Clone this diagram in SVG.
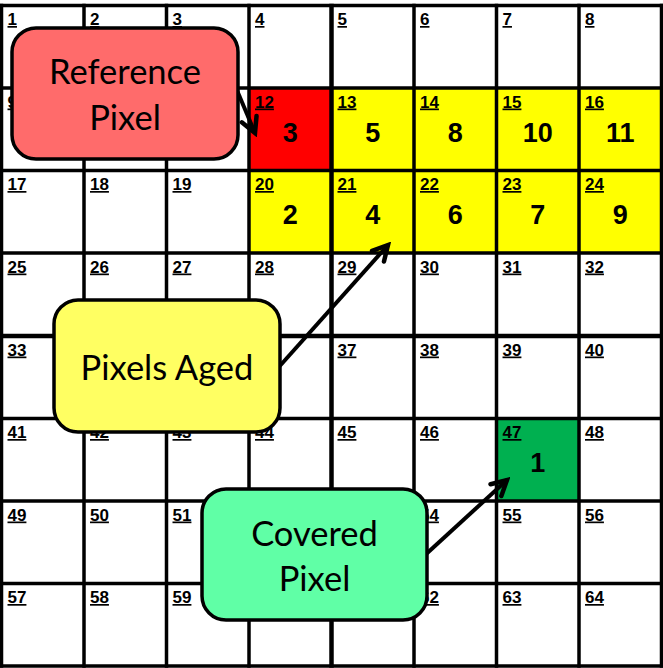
<svg xmlns="http://www.w3.org/2000/svg" width="663" height="668" viewBox="0 0 663 668">
<defs>
<style>
.lbl{font-family:"Liberation Sans",Arial,sans-serif;font-weight:bold;font-size:17px;text-decoration:underline;fill:#000}
.big{font-family:"Liberation Sans",Arial,sans-serif;font-weight:bold;font-size:27px;text-anchor:middle;fill:#000}
.gl{stroke:#000;stroke-width:3.5}
.gm{stroke:#000;stroke-width:4.5}
.box{stroke:#000;stroke-width:3.5}
.bt{font-family:Lato,"Open Sans",sans-serif;font-size:34.5px;text-anchor:middle;fill:#000}
.arr{stroke:#000;stroke-width:4;fill:none;marker-end:url(#ah)}
</style>
<marker id="ah" markerUnits="userSpaceOnUse" viewBox="-20 -12 24 24" refX="0" refY="0" markerWidth="24" markerHeight="24" orient="auto">
<path d="M-15,-8 L0,0 L-15,8" fill="none" stroke="#000" stroke-width="4.5" stroke-linecap="round" stroke-linejoin="miter"/>
</marker>
</defs>
<rect width="663" height="668" fill="#fff"/>
<g id="cells">
<rect x="249" y="88" width="82.5" height="82.5" fill="#FF0000"/>
<rect x="331.5" y="88" width="330" height="82.5" fill="#FFFF00"/>
<rect x="249" y="170.5" width="412.5" height="82.5" fill="#FFFF00"/>
<rect x="496.5" y="418.5" width="82.5" height="82.5" fill="#00B050"/>
</g>
<g id="grid">
<line class="gl" x1="1.5" y1="3.75" x2="1.5" y2="667.75"/>
<line class="gl" x1="84" y1="3.75" x2="84" y2="667.75"/>
<line class="gl" x1="166.5" y1="3.75" x2="166.5" y2="667.75"/>
<line class="gl" x1="249" y1="3.75" x2="249" y2="667.75"/>
<line class="gm" x1="331.5" y1="3.75" x2="331.5" y2="667.75"/>
<line class="gl" x1="414" y1="3.75" x2="414" y2="667.75"/>
<line class="gl" x1="496.5" y1="3.75" x2="496.5" y2="667.75"/>
<line class="gl" x1="579" y1="3.75" x2="579" y2="667.75"/>
<line class="gl" x1="661.5" y1="3.75" x2="661.5" y2="667.75"/>
<line class="gl" x1="0" y1="5.5" x2="663" y2="5.5"/>
<line class="gl" x1="0" y1="88" x2="663" y2="88"/>
<line class="gl" x1="0" y1="170.5" x2="663" y2="170.5"/>
<line class="gl" x1="0" y1="253" x2="663" y2="253"/>
<line class="gm" x1="0" y1="336" x2="663" y2="336"/>
<line class="gl" x1="0" y1="418.5" x2="663" y2="418.5"/>
<line class="gl" x1="0" y1="501" x2="663" y2="501"/>
<line class="gl" x1="0" y1="583.5" x2="663" y2="583.5"/>
<line class="gl" x1="0" y1="666" x2="663" y2="666"/>
</g>
<g id="labels">
<text class="lbl" x="7.5" y="25">1</text>
<text class="lbl" x="90" y="25">2</text>
<text class="lbl" x="172.5" y="25">3</text>
<text class="lbl" x="255" y="25">4</text>
<text class="lbl" x="337.5" y="25">5</text>
<text class="lbl" x="420" y="25">6</text>
<text class="lbl" x="502.5" y="25">7</text>
<text class="lbl" x="585" y="25">8</text>
<text class="lbl" x="7.5" y="107.5">9</text>
<text class="lbl" x="255" y="107.5">12</text>
<text class="lbl" x="337.5" y="107.5">13</text>
<text class="lbl" x="420" y="107.5">14</text>
<text class="lbl" x="502.5" y="107.5">15</text>
<text class="lbl" x="585" y="107.5">16</text>
<text class="lbl" x="7.5" y="190">17</text>
<text class="lbl" x="90" y="190">18</text>
<text class="lbl" x="172.5" y="190">19</text>
<text class="lbl" x="255" y="190">20</text>
<text class="lbl" x="337.5" y="190">21</text>
<text class="lbl" x="420" y="190">22</text>
<text class="lbl" x="502.5" y="190">23</text>
<text class="lbl" x="585" y="190">24</text>
<text class="lbl" x="7.5" y="272.5">25</text>
<text class="lbl" x="90" y="272.5">26</text>
<text class="lbl" x="172.5" y="272.5">27</text>
<text class="lbl" x="255" y="272.5">28</text>
<text class="lbl" x="337.5" y="272.5">29</text>
<text class="lbl" x="420" y="272.5">30</text>
<text class="lbl" x="502.5" y="272.5">31</text>
<text class="lbl" x="585" y="272.5">32</text>
<text class="lbl" x="7.5" y="355.5">33</text>
<text class="lbl" x="337.5" y="355.5">37</text>
<text class="lbl" x="420" y="355.5">38</text>
<text class="lbl" x="502.5" y="355.5">39</text>
<text class="lbl" x="585" y="355.5">40</text>
<text class="lbl" x="7.5" y="438">41</text>
<text class="lbl" x="90" y="438">42</text>
<text class="lbl" x="172.5" y="438">43</text>
<text class="lbl" x="255" y="438">44</text>
<text class="lbl" x="337.5" y="438">45</text>
<text class="lbl" x="420" y="438">46</text>
<text class="lbl" x="502.5" y="438">47</text>
<text class="lbl" x="585" y="438">48</text>
<text class="lbl" x="7.5" y="520.5">49</text>
<text class="lbl" x="90" y="520.5">50</text>
<text class="lbl" x="172.5" y="520.5">51</text>
<text class="lbl" x="420" y="520.5">54</text>
<text class="lbl" x="502.5" y="520.5">55</text>
<text class="lbl" x="585" y="520.5">56</text>
<text class="lbl" x="7.5" y="603">57</text>
<text class="lbl" x="90" y="603">58</text>
<text class="lbl" x="172.5" y="603">59</text>
<text class="lbl" x="420" y="603">62</text>
<text class="lbl" x="502.5" y="603">63</text>
<text class="lbl" x="585" y="603">64</text>
</g>
<g id="values">
<text class="big" x="290.25" y="141.5">3</text>
<text class="big" x="372.75" y="141.5">5</text>
<text class="big" x="455.25" y="141.5">8</text>
<text class="big" x="537.75" y="141.5">10</text>
<text class="big" x="620.25" y="141.5">11</text>
<text class="big" x="290.25" y="224">2</text>
<text class="big" x="372.75" y="224">4</text>
<text class="big" x="455.25" y="224">6</text>
<text class="big" x="537.75" y="224">7</text>
<text class="big" x="620.25" y="224">9</text>
<text class="big" x="537.75" y="472">1</text>
</g>
<g id="connectors">
<line class="arr" x1="236" y1="88" x2="255" y2="133"/>
<line class="arr" x1="278" y1="368" x2="388" y2="245"/>
<line class="arr" x1="424" y1="556" x2="507" y2="480"/>
</g>
<g id="reference-pixel">
<rect class="box" x="12" y="28" width="226" height="131" rx="24" fill="#FF6B6B"/>
<text class="bt" x="125" y="84">Reference</text>
<text class="bt" x="125" y="130">Pixel</text>
</g>
<g id="pixels-aged">
<rect class="box" x="54" y="300" width="226" height="132" rx="24" fill="#FFFF62"/>
<text class="bt" x="167" y="380">Pixels Aged</text>
</g>
<g id="covered-pixel">
<rect class="box" x="202" y="489" width="225" height="131" rx="24" fill="#60FFA6"/>
<text class="bt" x="314.5" y="546">Covered</text>
<text class="bt" x="314.5" y="591">Pixel</text>
</g>
</svg>
